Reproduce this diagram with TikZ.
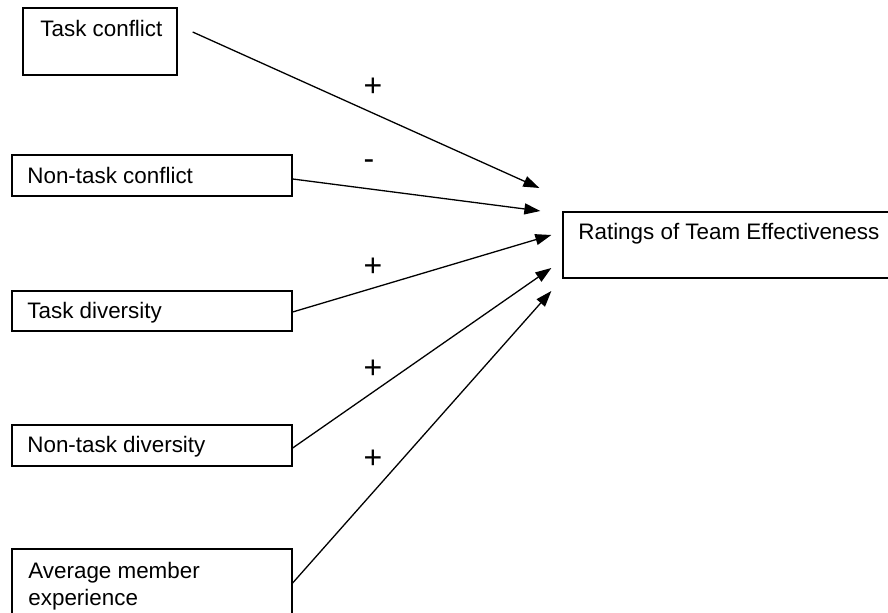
\documentclass[tikz,border=0pt]{standalone}
\usepackage{fontspec}
\setmainfont{Liberation Sans}
\usetikzlibrary{arrows.meta,fit}

\begin{document}
\begin{tikzpicture}[x=0.5pt,y=-0.5pt]
\tikzstyle{every node}=[font=\fontsize{11.2}{13.5}\selectfont]
\tikzstyle{box}=[draw,line width=0.65pt,inner sep=0pt]
\tikzstyle{txt}=[anchor=base west,inner sep=0pt]
\tikzstyle{sign}=[anchor=base,inner sep=0pt,font=\fontsize{16}{16}\selectfont]
\tikzstyle{link}=[line width=0.65pt,-{Triangle[length=8pt,width=5.5pt]}]
%\draw [red!40](0,0) grid[step=50] (888,613);

\useasboundingbox (0,0) rectangle (888,613);
\clip (0,0) rectangle (888,613);

\node [box,fit={(23,8) (177,75)}] (tc) {};
\node [box,fit={(12,155) (292,196)}] (ntc) {};
\node [box,fit={(12,291) (292,331)}] (td) {};
\node [box,fit={(12,425) (292,466)}] (ntd) {};
\node [box,fit={(12,549) (292,625)}] (ame) {};
\node [box,fit={(563,212) (900,278)}] (rte) {};

\node [txt] (tcl) at (40,37) {Task conflict};
\node [txt] (ntcl) at (27,184) {Non-task conflict};
\node [txt] (tdl) at (27,319) {Task diversity};
\node [txt] (ntdl) at (27,453) {Non-task diversity};
\node [anchor=north west,inner sep=0pt,align=left] (amel) at (28,562) {Average member\\experience};
\node [txt] (rtel) at (578,240) {Ratings of Team Effectiveness};

\draw ([shift={(15,-9.5)}]tc.east) [link] to ([shift={(-23,-57)}]rte.west);
\draw ([shift={(0,3.5)}]ntc.east) [link] to ([shift={(-22,-34)}]rte.west);
\draw ([shift={(0,1)}]td.east) [link] to ([shift={(-11,-10)}]rte.west);
\draw ([shift={(0,2.5)}]ntd.east) [link] to ([shift={(-11,23)}]rte.west);
\draw ([shift={(0,-4)}]ame.east) [link] to ([shift={(-11,46)}]rte.west);

\node [sign] (s1) at (373,96.5) {+};
\node [sign] (s2) at (369,170) {-};
\node [sign] (s3) at (373,276.5) {+};
\node [sign] (s4) at (373,378.5) {+};
\node [sign] (s5) at (373,468.5) {+};
\end{tikzpicture}
\end{document}
